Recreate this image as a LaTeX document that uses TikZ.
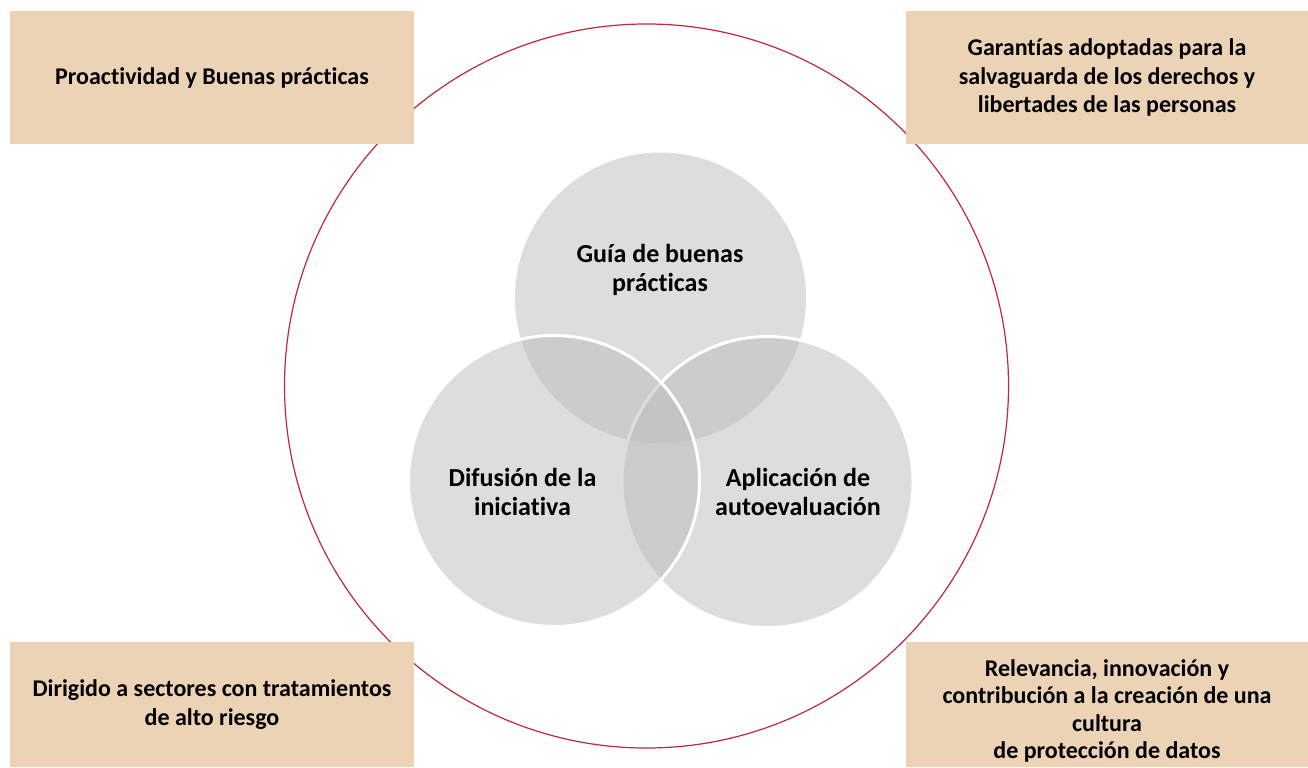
\documentclass[tikz,border=0pt]{standalone}
\usepackage{fontspec}
\setmainfont[Ligatures=NoCommon]{Carlito}
\definecolor{boxfill}{RGB}{236,211,181}
\definecolor{ringred}{RGB}{192,40,60}
\definecolor{venngray}{RGB}{189,189,189}
\begin{document}
\begin{tikzpicture}[x=1bp,y=-1bp,
  box/.style={rectangle, fill=boxfill, draw=none, inner sep=0pt, align=center,
    font=\fontsize{24bp}{28.5bp}\selectfont\bfseries},
  vc/.style={circle, minimum size=291bp, inner sep=0pt, fill=venngray, fill opacity=0.5},
  vlabel/.style={align=center, font=\fontsize{26bp}{29bp}\selectfont\bfseries, inner sep=0pt},
]
\useasboundingbox (0,0) rectangle (1308,767);
\fill[white] (0,0) rectangle (1308,767);
% big ring
\node[circle, draw=ringred, line width=1.2bp, minimum size=724bp, inner sep=0pt] (ring) at (646.5,386) {};
% boxes
\node[box, minimum width=404bp, minimum height=133bp] (tl) at (212,77.5) {Proactividad y Buenas prácticas};
\node[box, minimum width=402bp, minimum height=133bp] (tr) at (1107,77.5) {Garantías adoptadas para la\\salvaguarda de los derechos y\\libertades de las personas};
\node[box, minimum width=404bp, minimum height=125bp] (bl) at (212,704.5) {Dirigido a sectores con tratamientos\\de alto riesgo};
\node[box, minimum width=402bp, minimum height=125bp] (br) at (1107,704.5) {};
\node[vlabel, font=\fontsize{24bp}{27.5bp}\selectfont\bfseries] (brt) at (1107,711) {Relevancia, innovación y\\contribución a la creación de una\\cultura\\de protección de datos};
% venn circles
\node[vc] (ctop) at (660.5,298) {};
\node[vc, draw=white, draw opacity=1, line width=3bp] (cright) at (767.5,482) {};
\node[vc, draw=white, draw opacity=1, line width=3bp] (cleft) at (554,481) {};
% labels
\node[vlabel] (ltop) at (660,270) {Guía de buenas\\prácticas};
\node[vlabel] (lleft) at (522.5,492) {Difusión de la\\iniciativa};
\node[vlabel] (lright) at (798,492) {Aplicación de\\autoevaluación};
\end{tikzpicture}
\end{document}
